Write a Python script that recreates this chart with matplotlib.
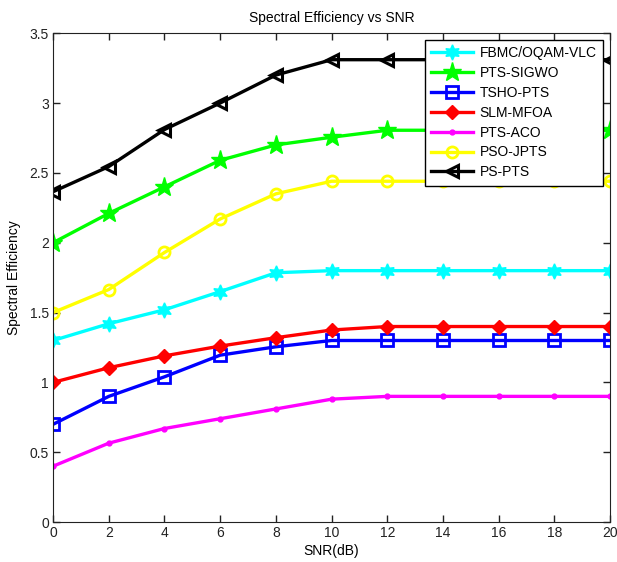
import numpy as np
import matplotlib
matplotlib.use("Agg")
import matplotlib.pyplot as plt

snr = [0, 2, 4, 6, 8, 10, 12, 14, 16, 18, 20]

fbmc = [1.30, 1.42, 1.52, 1.65, 1.785, 1.80, 1.80, 1.80, 1.80, 1.80, 1.80]
sigwo = [2.00, 2.21, 2.40, 2.59, 2.70, 2.755, 2.805, 2.805, 2.805, 2.805, 2.805]
tsho = [0.70, 0.90, 1.04, 1.195, 1.255, 1.30, 1.30, 1.30, 1.30, 1.30, 1.30]
mfoa = [1.00, 1.105, 1.19, 1.26, 1.32, 1.375, 1.40, 1.40, 1.40, 1.40, 1.40]
aco = [0.40, 0.565, 0.67, 0.74, 0.81, 0.88, 0.90, 0.90, 0.90, 0.90, 0.90]
jpts = [1.50, 1.665, 1.93, 2.17, 2.35, 2.44, 2.44, 2.44, 2.44, 2.44, 2.44]
pspts = [2.365, 2.545, 2.81, 3.00, 3.20, 3.31, 3.31, 3.31, 3.31, 3.31, 3.31]

labels = ["FBMC/OQAM-VLC", "PTS-SIGWO", "TSHO-PTS", "SLM-MFOA",
          "PTS-ACO", "PSO-JPTS", "PS-PTS"]

plt.rcParams.update({
    "font.family": ["Liberation Sans", "DejaVu Sans"],
    "font.size": 10,
})

fig = plt.figure(figsize=(6.17, 5.62), dpi=100)
ax = fig.add_axes([0.086, 0.071, 0.903, 0.870])

lw = 2.4
ax.plot(snr, fbmc, color="cyan", lw=lw, marker=(6, 1, 0), markersize=11,
        label=labels[0])
ax.plot(snr, sigwo, color="#00ff00", lw=lw, marker="*", markersize=14,
        label=labels[1])
ax.plot(snr, tsho, color="blue", lw=lw, marker="s", markersize=8,
        markerfacecolor="none", markeredgewidth=2, label=labels[2])
ax.plot(snr, mfoa, color="red", lw=lw, marker="D", markersize=7,
        label=labels[3])
ax.plot(snr, aco, color="magenta", lw=lw, marker=".", markersize=7,
        label=labels[4])
ax.plot(snr, jpts, color="yellow", lw=lw, marker="o", markersize=8,
        markerfacecolor="none", markeredgewidth=2, label=labels[5])
ax.plot(snr, pspts, color="black", lw=lw, marker="<", markersize=9,
        markerfacecolor="none", markeredgewidth=2.2, label=labels[6])

ax.set_xlim(0, 20)
ax.set_ylim(0, 3.5)
ax.set_xticks(np.arange(0, 21, 2))
ax.set_yticks(np.arange(0, 3.51, 0.5))
ax.set_yticklabels(["0", "0.5", "1", "1.5", "2", "2.5", "3", "3.5"])
ax.tick_params(direction="in", top=True, right=True, length=5, width=1,
               pad=3, colors="#222222")
for s in ax.spines.values():
    s.set_color("#222222")

ax.set_title("Spectral Efficiency vs SNR", fontsize=10, pad=8)
ax.set_xlabel("SNR(dB)", fontsize=10, labelpad=3)
ax.set_ylabel("Spectral Efficiency", fontsize=10, labelpad=6)

leg = ax.legend(loc="upper right", bbox_to_anchor=(0.987, 0.986),
                borderaxespad=0, fontsize=10, frameon=True, fancybox=False,
                framealpha=1.0, handlelength=3.0, borderpad=0.45,
                labelspacing=0.42, handletextpad=0.5)
leg.get_frame().set_edgecolor("black")
leg.get_frame().set_linewidth(1.0)

fig.savefig("out.png", dpi=100)
